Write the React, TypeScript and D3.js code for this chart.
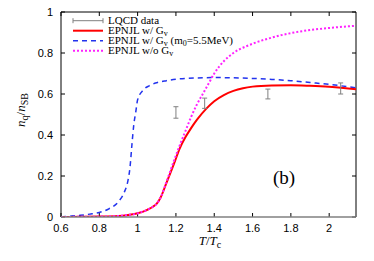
import React from 'react';
import * as d3 from 'd3';

const W = 374;
const H = 261;

// EPNJL w/ Gv (red solid)
const redT = [0.6, 0.7, 0.8, 0.9, 0.95, 1.0, 1.05, 1.08, 1.1, 1.12, 1.15, 1.19, 1.22, 1.25, 1.28, 1.31, 1.36, 1.4, 1.45, 1.5, 1.55, 1.6, 1.7, 1.8, 1.9, 2.0, 2.1, 2.15];
const redN = [0, 0.001, 0.002, 0.005, 0.01, 0.018, 0.035, 0.05, 0.065, 0.095, 0.165, 0.26, 0.335, 0.39, 0.435, 0.475, 0.53, 0.565, 0.595, 0.615, 0.628, 0.636, 0.642, 0.643, 0.64, 0.635, 0.627, 0.622];

// EPNJL w/ Gv (m0=5.5MeV) (blue dashed)
const blueT = [0.6, 0.65, 0.7, 0.75, 0.8, 0.85, 0.9, 0.93, 0.95, 0.96, 0.97, 0.98, 0.99, 1.0, 1.03, 1.06, 1.1, 1.15, 1.2, 1.3, 1.4, 1.5, 1.6, 1.7, 1.8, 1.9, 2.0, 2.1, 2.15];
const blueN = [0.001, 0.004, 0.008, 0.014, 0.022, 0.04, 0.075, 0.12, 0.18, 0.24, 0.35, 0.45, 0.51, 0.572, 0.62, 0.64, 0.655, 0.665, 0.672, 0.678, 0.68, 0.679, 0.676, 0.671, 0.665, 0.656, 0.647, 0.635, 0.628];

// EPNJL w/o Gv (magenta dotted)
const magT = [0.6, 0.7, 0.8, 0.9, 0.95, 1.0, 1.05, 1.08, 1.1, 1.12, 1.15, 1.19, 1.22, 1.25, 1.28, 1.31, 1.34, 1.37, 1.4, 1.45, 1.5, 1.6, 1.7, 1.8, 1.9, 2.0, 2.1, 2.15];
const magN = [0, 0.001, 0.002, 0.005, 0.01, 0.018, 0.035, 0.05, 0.065, 0.095, 0.17, 0.275, 0.35, 0.42, 0.49, 0.55, 0.6, 0.65, 0.7, 0.76, 0.8, 0.845, 0.875, 0.897, 0.912, 0.922, 0.93, 0.933];

// LQCD data
const lqcdT = [1.2, 1.35, 1.68, 2.06];
const lqcdN = [0.51, 0.555, 0.6, 0.627];
const lqcdErr = [0.028, 0.025, 0.024, 0.027];

const xTicks = [0.6, 0.8, 1, 1.2, 1.4, 1.6, 1.8, 2];
const yTicks = [0, 0.2, 0.4, 0.6, 0.8, 1];

const App: React.FC = () => {
  const left = 61, right = 356, top = 12, bottom = 217;
  const x = d3.scaleLinear().domain([0.6, 2.14]).range([left, right]);
  const y = d3.scaleLinear().domain([0, 1]).range([bottom, top]);

  const line = d3.line<[number, number]>()
    .x((d) => x(d[0]))
    .y((d) => y(d[1]))
    .curve(d3.curveMonotoneX);

  const zip = (a: number[], b: number[]) => a.map((t, i) => [t, b[i]] as [number, number]);

  const serif = '"Liberation Serif", "Times New Roman", serif';
  const sans = '"Liberation Sans", Arial, sans-serif';

  const legendKinds = ['err', 'red', 'blue', 'mag'];

  return (
    <svg width={W} height={H} style={{ position: 'absolute', left: 0, top: 0 }}>
      <rect width={W} height={H} fill="#fff" />
      <defs>
        <clipPath id="plot">
          <rect x={left} y={top} width={right - left} height={bottom - top} />
        </clipPath>
      </defs>

      {/* frame */}
      <line x1={left} x2={left} y1={top} y2={bottom} stroke="#000" strokeWidth={1} />
      <line x1={left} x2={right} y1={top} y2={top} stroke="#000" strokeWidth={1} />
      <line x1={right} x2={right} y1={top} y2={bottom} stroke="#000" strokeWidth={1} />

      {/* ticks */}
      {xTicks.map((t) => (
        <g key={'x' + t}>
          <line x1={x(t)} x2={x(t)} y1={bottom} y2={bottom - 4} stroke="#000" />
          <line x1={x(t)} x2={x(t)} y1={top} y2={top + 4} stroke="#000" />
          <text x={x(t)} y={232} textAnchor="middle" fontFamily={sans} fontSize={11}>{t === 1 || t === 2 ? String(t) : t.toFixed(1)}</text>
        </g>
      ))}
      {yTicks.map((t) => (
        <g key={'y' + t}>
          <line x1={left} x2={left + 4} y1={y(t)} y2={y(t)} stroke="#000" />
          <line x1={right} x2={right - 4} y1={y(t)} y2={y(t)} stroke="#000" />
          <text x={53} y={y(t) + 4} textAnchor="end" fontFamily={sans} fontSize={11}>{t === 0 || t === 1 ? String(t) : t.toFixed(1)}</text>
        </g>
      ))}

      <g clipPath="url(#plot)">
        <path d={line(zip(blueT, blueN)) || ''} fill="none" stroke="#2233ee" strokeWidth={1.5} strokeDasharray="5,4" />
        <path d={line(zip(redT, redN)) || ''} fill="none" stroke="#ff0000" strokeWidth={2} />
        <path d={line(zip(magT, magN)) || ''} fill="none" stroke="#ff22ff" strokeWidth={2} strokeDasharray="2,2" />
        {lqcdT.map((t, i) => (
          <g key={'e' + i} stroke="#808080" strokeWidth={1}>
            <line x1={x(t)} x2={x(t)} y1={y(lqcdN[i] - lqcdErr[i])} y2={y(lqcdN[i] + lqcdErr[i])} />
            <line x1={x(t) - 2.5} x2={x(t) + 2.5} y1={y(lqcdN[i] - lqcdErr[i])} y2={y(lqcdN[i] - lqcdErr[i])} />
            <line x1={x(t) - 2.5} x2={x(t) + 2.5} y1={y(lqcdN[i] + lqcdErr[i])} y2={y(lqcdN[i] + lqcdErr[i])} />
          </g>
        ))}
      </g>

      {/* bottom axis line */}
      <line x1={left} x2={right} y1={bottom} y2={bottom} stroke="#808080" strokeWidth={1.5} />

      {/* legend */}
      {legendKinds.map((k, i) => {
        const ly = 20.7 + i * 10;
        return (
          <g key={'l' + i}>
            {k === 'err' && (
              <g stroke="#808080">
                <line x1={73} x2={103} y1={ly} y2={ly} />
                <line x1={73} x2={73} y1={ly - 2.5} y2={ly + 2.5} />
                <line x1={103} x2={103} y1={ly - 2.5} y2={ly + 2.5} />
              </g>
            )}
            {k === 'red' && <line x1={73} x2={103} y1={ly} y2={ly} stroke="#ff0000" strokeWidth={2} />}
            {k === 'blue' && <line x1={73} x2={103} y1={ly} y2={ly} stroke="#2233ee" strokeWidth={1.5} strokeDasharray="5,4" />}
            {k === 'mag' && <line x1={73} x2={103} y1={ly} y2={ly} stroke="#ff22ff" strokeWidth={2} strokeDasharray="2,2" />}
          </g>
        );
      })}
      <g fontFamily={serif} fontSize={11} fill="#000">
        <text x={108} y={24}>LQCD data</text>
        <text x={108} y={34}>EPNJL w/ G<tspan fontSize={8} dy={2}>v</tspan></text>
        <text x={108} y={44}>EPNJL w/ G<tspan fontSize={8} dy={2}>v</tspan><tspan dy={-2}> (m</tspan><tspan fontSize={8} dy={2}>0</tspan><tspan dy={-2}>=5.5MeV)</tspan></text>
        <text x={108} y={54}>EPNJL w/o G<tspan fontSize={8} dy={2}>v</tspan></text>
      </g>

      <text x={284} y={184} textAnchor="middle" fontFamily={serif} fontSize={19}>(b)</text>

      {/* axis labels */}
      <text x={210} y={245} textAnchor="middle" fontFamily={serif} fontSize={13}>
        <tspan fontStyle="italic">T</tspan>/<tspan fontStyle="italic">T</tspan><tspan fontSize={10} dy={3}>c</tspan>
      </text>
      <text transform="translate(25,110) rotate(-90)" textAnchor="middle" fontFamily={serif} fontSize={13}>
        <tspan fontStyle="italic">n</tspan><tspan fontSize={10} dy={3}>q</tspan><tspan dy={-3}>/</tspan><tspan fontStyle="italic">n</tspan><tspan fontSize={10} dy={3}>SB</tspan>
      </text>
    </svg>
  );
};

export default App;
